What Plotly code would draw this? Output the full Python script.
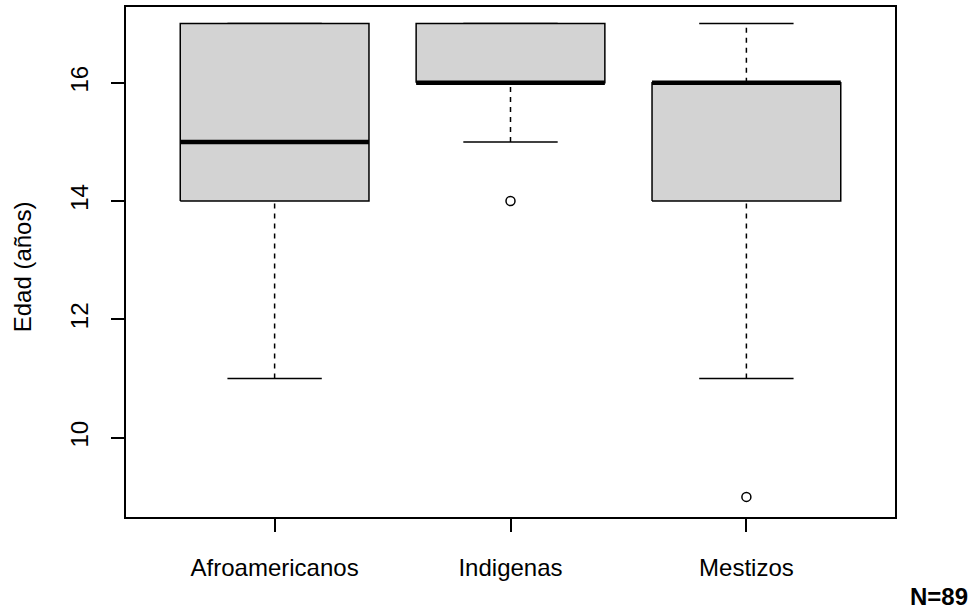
import plotly.graph_objects as go

# Age distribution by ethnic group (five-number summaries + outliers)
categories = ["Afroamericanos", "Indigenas", "Mestizos"]
lower_whisker = [11, 15, 11]
q1 = [14, 16, 14]
median = [15, 16, 16]
q3 = [17, 17, 16]
upper_whisker = [17, 17, 17]
outliers = [[], [14], [9]]
y_ticks = [10, 12, 14, 16]
sample_note = "N=89"

FONT = "Liberation Sans, Arial, sans-serif"
FSIZE = 24
BOX_HALF = 0.4
STAPLE_HALF = 0.2

fig = go.Figure()

for i, name in enumerate(categories):
    x = i + 1
    # dashed whiskers
    for a, b in ((lower_whisker[i], q1[i]), (q3[i], upper_whisker[i])):
        if a != b:
            fig.add_trace(go.Scatter(
                x=[x, x], y=[a, b], mode="lines",
                line=dict(color="black", width=1.5, dash="5px,5px"),
                hoverinfo="skip", showlegend=False))
    # staples
    for v in (lower_whisker[i], upper_whisker[i]):
        fig.add_trace(go.Scatter(
            x=[x - STAPLE_HALF, x + STAPLE_HALF], y=[v, v], mode="lines",
            line=dict(color="black", width=1.5),
            hoverinfo="skip", showlegend=False))
    # box
    fig.add_trace(go.Scatter(
        x=[x - BOX_HALF, x + BOX_HALF, x + BOX_HALF, x - BOX_HALF, x - BOX_HALF],
        y=[q1[i], q1[i], q3[i], q3[i], q1[i]],
        mode="lines", fill="toself", fillcolor="#D3D3D3",
        line=dict(color="black", width=1.5),
        name=name, hoverinfo="skip", showlegend=False))
    # median
    fig.add_trace(go.Scatter(
        x=[x - BOX_HALF, x + BOX_HALF], y=[median[i], median[i]], mode="lines",
        line=dict(color="black", width=4.5),
        hoverinfo="skip", showlegend=False))
    # outliers
    if outliers[i]:
        fig.add_trace(go.Scatter(
            x=[x] * len(outliers[i]), y=outliers[i], mode="markers",
            marker=dict(symbol="circle-open", size=9, color="black",
                        line=dict(width=1.5, color="black")),
            hoverinfo="skip", showlegend=False))

fig.update_layout(
    width=974, height=611,
    margin=dict(l=126, r=79, t=5, b=94),
    paper_bgcolor="white", plot_bgcolor="white",
    font=dict(family=FONT, size=FSIZE, color="black"),
    xaxis=dict(
        range=[0.37, 3.63], tickvals=[1, 2, 3], ticktext=categories,
        showgrid=False, zeroline=False,
        showline=True, linecolor="black", linewidth=1.5, mirror=True,
        ticks="outside", ticklen=13, tickwidth=1.5, tickcolor="black",
        tickfont=dict(family=FONT, size=FSIZE, color="black"),
        ticklabelstandoff=15,
    ),
    yaxis=dict(
        range=[8.66, 17.28], tickvals=y_ticks,
        showgrid=False, zeroline=False,
        showline=True, linecolor="black", linewidth=1.5, mirror=True,
        ticks="outside", ticklen=13, tickwidth=1.5, tickcolor="black",
        tickangle=-90,
        tickfont=dict(family=FONT, size=FSIZE, color="black"),
        ticklabelstandoff=14,
    ),
    annotations=[
        dict(text="Edad (años)", textangle=-90, xref="paper", yref="paper",
             x=-0.135, y=0.49, xanchor="center", yanchor="middle",
             showarrow=False, font=dict(family=FONT, size=FSIZE, color="black")),
        dict(text="<b>" + sample_note + "</b>", xref="paper", yref="paper",
             x=1.097, y=-0.155, xanchor="right", yanchor="middle",
             showarrow=False, font=dict(family=FONT, size=FSIZE, color="black")),
    ],
)

fig.write_html("out.html")
